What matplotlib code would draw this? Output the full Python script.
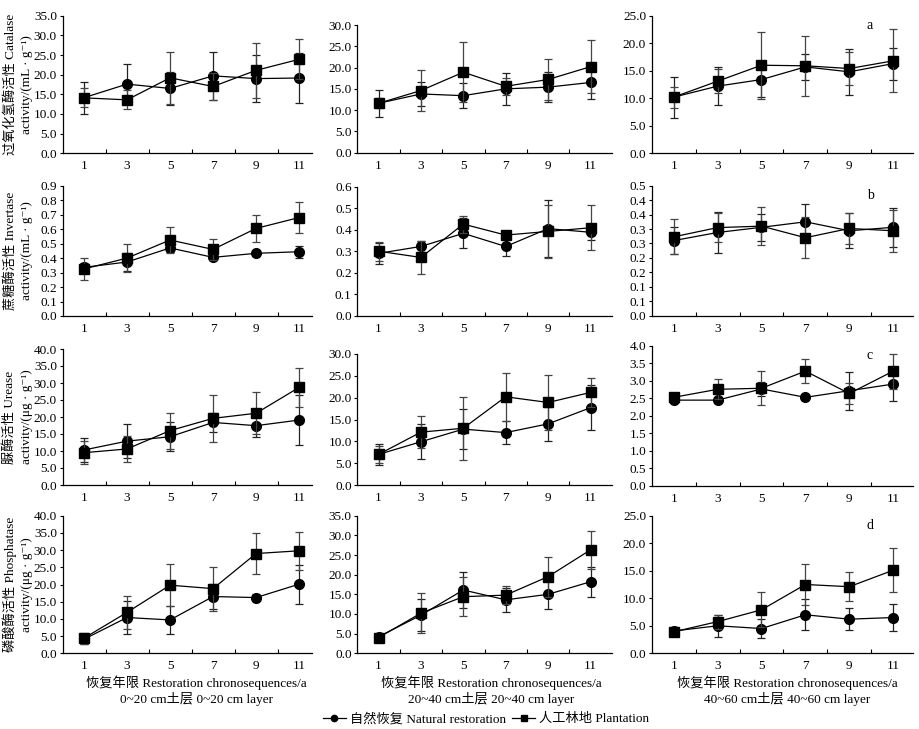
from decimal import Decimal, ROUND_HALF_UP
import matplotlib
matplotlib.use("Agg")
import matplotlib.pyplot as plt
from matplotlib.ticker import FuncFormatter, MultipleLocator, FixedLocator
from matplotlib.lines import Line2D

plt.rcParams['font.family'] = ['Liberation Serif', 'DejaVu Serif', 'Noto Sans CJK SC']

years = [1, 3, 5, 7, 9, 11]

# each list holds the three soil layers: 0-20, 20-40, 40-60 cm
catalase_nat = [[14.15, 17.6, 16.5, 19.7, 19.0, 19.15],
                [11.6, 13.8, 13.4, 15.0, 15.4, 16.5],
                [10.2, 12.2, 13.4, 15.7, 14.8, 16.3]]
catalase_nat_err = [[4.1, 5.0, 4.3, 6.1, 6.0, 6.3],
                    [3.1, 2.8, 2.9, 3.7, 3.6, 3.8],
                    [3.7, 3.5, 3.2, 2.4, 4.2, 2.9]]
catalase_pla = [[14.1, 13.6, 19.2, 17.0, 21.1, 23.9],
                [11.6, 14.6, 18.9, 15.6, 17.2, 20.2],
                [10.2, 13.1, 16.0, 15.9, 15.4, 16.8]]
catalase_pla_err = [[2.4, 2.4, 6.6, 3.5, 7.0, 5.1],
                    [1.2, 4.8, 7.1, 2.0, 4.9, 6.2],
                    [1.9, 2.2, 6.1, 5.5, 3.0, 5.7]]

invertase_nat = [[0.336, 0.373, 0.470, 0.405, 0.433, 0.444],
                 [0.290, 0.322, 0.383, 0.322, 0.405, 0.388],
                 [0.260, 0.288, 0.306, 0.325, 0.294, 0.306]]
invertase_nat_err = [[0.03, 0.065, 0.03, 0.02, 0.015, 0.04],
                     [0.05, 0.025, 0.07, 0.045, 0.133, 0.035],
                     [0.048, 0.07, 0.047, 0.06, 0.06, 0.068]]
invertase_pla = [[0.325, 0.400, 0.525, 0.460, 0.605, 0.680],
                 [0.300, 0.271, 0.426, 0.375, 0.392, 0.409],
                 [0.273, 0.305, 0.310, 0.270, 0.302, 0.294]]
invertase_pla_err = [[0.075, 0.095, 0.087, 0.07, 0.095, 0.105],
                     [0.045, 0.077, 0.04, 0.01, 0.125, 0.105],
                     [0.06, 0.05, 0.067, 0.072, 0.055, 0.072]]

urease_nat = [[10.3, 12.9, 14.2, 18.4, 17.45, 19.1],
              [7.0, 9.9, 12.8, 12.0, 14.0, 17.7],
              [2.45, 2.45, 2.77, 2.53, 2.72, 2.91]]
urease_nat_err = [[3.4, 4.9, 4.2, 2.7, 3.2, 7.3],
                  [2.4, 4.0, 4.6, 2.7, 3.9, 5.2],
                  [0.05, 0.05, 0.21, 0.05, 0.54, 0.49]]
urease_pla = [[9.5, 10.6, 16.0, 19.6, 21.1, 28.7],
              [7.0, 12.1, 13.0, 20.2, 18.9, 21.2],
              [2.53, 2.76, 2.79, 3.28, 2.64, 3.28]]
urease_pla_err = [[3.3, 3.8, 5.3, 7.0, 6.2, 5.8],
                  [2.0, 3.7, 7.2, 5.5, 6.4, 3.4],
                  [0.05, 0.29, 0.48, 0.35, 0.3, 0.5]]

phosphatase_nat = [[4.1, 10.4, 9.7, 16.5, 16.2, 20.1],
                   [4.2, 9.7, 16.1, 13.6, 15.0, 18.2],
                   [4.05, 5.0, 4.5, 7.0, 6.2, 6.5]]
phosphatase_nat_err = [[1.5, 4.7, 4.1, 3.6, 1.1, 5.7],
                       [0.5, 4.1, 4.5, 3.0, 3.8, 3.8],
                       [0.3, 2.0, 1.65, 2.8, 2.0, 2.4]]
phosphatase_pla = [[4.4, 11.9, 19.8, 18.8, 29.0, 29.8],
                   [4.0, 10.2, 14.4, 14.8, 19.5, 26.3],
                   [3.9, 5.75, 7.9, 12.5, 12.1, 15.1]]
phosphatase_pla_err = [[1.6, 4.8, 6.1, 6.4, 6.0, 5.5],
                       [0.5, 5.1, 4.9, 2.3, 5.1, 4.9],
                       [0.3, 1.25, 3.2, 3.7, 2.6, 4.0]]

ylabels_cn = ['过氧化氢酶活性 Catalase', '蔗糖酶活性 Invertase',
              '脲酶活性 Urease', '磷酸酶活性 Phosphatase']
ylabels_en = ['activity/(mL · g⁻¹)', 'activity/(mL · g⁻¹)',
              'activity/(μg · g⁻¹)', 'activity/(μg · g⁻¹)']
ymax = [[35, 30, 25], [0.9, 0.6, 0.45], [40, 30, 4.0], [40, 35, 25]]
ystep = [[5, 5, 5], [0.1, 0.1, 0.05], [5, 5, 0.5], [5, 5, 5]]
layers = ['0~20 cm土层 0~20 cm layer', '20~40 cm土层 20~40 cm layer',
          '40~60 cm土层 40~60 cm layer']
panel_letters = ['a', 'b', 'c', 'd']

W, H = 919, 729
fig = plt.figure(figsize=(W / 100, H / 100), dpi=100)

# pixel boxes (left, right, top, bottom)
col_lr = [(62.5, 312), (357.3, 611.7), (651.7, 913)]
col_xmax = [11.6, 12.0, 11.9]
row_tb = [[(15.7, 153.3), (25.0, 152.7), (15.7, 153.3)],
          [(185.7, 316), (186.7, 315.7), (185.7, 315.7)],
          [(349, 485), (354, 485), (346, 485.7)],
          [(515.7, 653.3), (515.7, 653.3), (515.7, 653.3)]]


def fmt(v, pos):
    d = Decimal(str(round(v, 6))).quantize(Decimal('0.1'), rounding=ROUND_HALF_UP)
    return str(d)


data = [(catalase_nat, catalase_nat_err, catalase_pla, catalase_pla_err),
        (invertase_nat, invertase_nat_err, invertase_pla, invertase_pla_err),
        (urease_nat, urease_nat_err, urease_pla, urease_pla_err),
        (phosphatase_nat, phosphatase_nat_err, phosphatase_pla, phosphatase_pla_err)]

tsize = 9.5
for r in range(4):
    nat, nat_e, pla, pla_e = data[r]
    for c in range(3):
        l, rr = col_lr[c]
        t, b = row_tb[r][c]
        ax = fig.add_axes([l / W, 1 - b / H, (rr - l) / W, (b - t) / H])
        ax.errorbar(years, nat[c], yerr=nat_e[c], fmt='-o', color='k', lw=0.9,
                    markersize=7, ecolor='#222222', elinewidth=0.9,
                    capsize=3, capthick=0.9, zorder=3, clip_on=False)
        ax.errorbar(years, pla[c], yerr=pla_e[c], fmt='-s', color='k', lw=0.9,
                    markersize=6.5, ecolor='#444444', elinewidth=0.9,
                    capsize=3, capthick=0.9, zorder=4, clip_on=False)
        ax.set_xlim(0, col_xmax[c])
        ax.set_ylim(0, ymax[r][c])
        ax.yaxis.set_major_locator(MultipleLocator(ystep[r][c]))
        ax.yaxis.set_major_formatter(FuncFormatter(fmt))
        ax.set_xticks(years)
        ax.xaxis.set_minor_locator(FixedLocator([2, 4, 6, 8, 10]))
        ax.tick_params(axis='x', which='major', length=0, pad=5, labelsize=tsize)
        ax.tick_params(axis='x', which='minor', direction='in', length=3, width=0.8)
        ax.tick_params(axis='y', direction='out', length=2.5, width=0.8, pad=1.5,
                       labelsize=tsize)
        for s in ['top', 'right']:
            ax.spines[s].set_visible(False)
        for s in ['left', 'bottom']:
            ax.spines[s].set_linewidth(0.9)
        if c == 0:
            yc = 1 - (t + b) / 2 / H
            fig.text(10 / W, yc, ylabels_cn[r], rotation=90, ha='center',
                     va='center', fontsize=9.5)
            fig.text(27 / W, yc, ylabels_en[r], rotation=90, ha='center',
                     va='center', fontsize=9.5)
        if c == 2:
            fig.text(870 / W, 1 - (t + 3) / H, panel_letters[r], ha='center',
                     va='top', fontsize=10)

title_x = [196, 491, 787]
for c in range(3):
    fig.text(title_x[c] / W, 1 - 683 / H, '恢复年限 Restoration chronosequences/a',
             ha='center', va='center', fontsize=9.5)
    fig.text(title_x[c] / W, 1 - 699 / H, layers[c], ha='center', va='center',
             fontsize=9.5)

handles = [Line2D([], [], color='k', marker='o', lw=0.9, markersize=4.5),
           Line2D([], [], color='k', marker='s', lw=0.9, markersize=4.5)]
fig.legend(handles, ['自然恢复 Natural restoration', '人工林地 Plantation'],
           loc='center', bbox_to_anchor=(486 / W, 1 - 719 / H), ncol=2,
           frameon=False, fontsize=9.5, handlelength=1.8, handletextpad=0.3,
           columnspacing=0.4, borderpad=0, borderaxespad=0)

fig.savefig('out.png', dpi=100)
